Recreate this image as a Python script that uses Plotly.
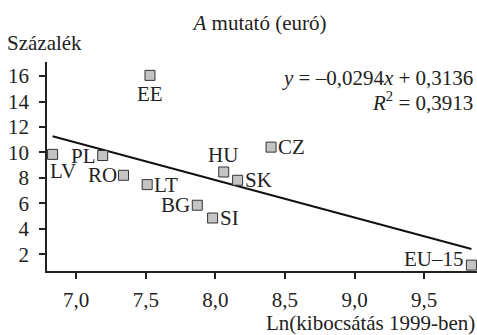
import plotly.graph_objects as go

# Data
countries = ["EE", "LV", "PL", "RO", "LT", "BG", "SI", "HU", "SK", "CZ", "EU–15"]
ln_output = [7.53, 6.83, 7.19, 7.34, 7.51, 7.87, 7.98, 8.06, 8.16, 8.40, 9.84]
percent = [16.05, 9.85, 9.76, 8.21, 7.48, 5.86, 4.86, 8.47, 7.82, 10.42, 1.16]

trend_x = [6.83, 9.84]
trend_y = [11.28, 2.43]

x_ticks = [7.0, 7.5, 8.0, 8.5, 9.0, 9.5]
y_ticks = [2, 4, 6, 8, 10, 12, 14, 16]

title_text = "<i>A</i> mutató (euró)"
y_label = "Százalék"
x_label = "Ln(kibocsátás 1999-ben)"
eq_line1 = "<i>y</i> = –0,0294<i>x</i> + 0,3136"
eq_line2 = "<i>R</i><sup>2</sup> = 0,3913"

# label placement (style)
label_style = {
    "EE": dict(xanchor="center", yanchor="top", xshift=0, yshift=-5),
    "LV": dict(xanchor="left", yanchor="top", xshift=-5, yshift=-3),
    "PL": dict(xanchor="right", yanchor="middle", xshift=-5, yshift=0),
    "RO": dict(xanchor="right", yanchor="middle", xshift=-5, yshift=0),
    "LT": dict(xanchor="left", yanchor="middle", xshift=5, yshift=0),
    "BG": dict(xanchor="right", yanchor="middle", xshift=-5, yshift=0),
    "SI": dict(xanchor="left", yanchor="middle", xshift=5, yshift=0),
    "HU": dict(xanchor="center", yanchor="bottom", xshift=-1, yshift=3),
    "SK": dict(xanchor="left", yanchor="middle", xshift=5, yshift=0),
    "CZ": dict(xanchor="left", yanchor="middle", xshift=5, yshift=0),
    "EU–15": dict(xanchor="right", yanchor="middle", xshift=-5, yshift=6),
}

FONT = "Liberation Serif, Times New Roman, serif"
FS = 21
TXT = "#222222"

W, H = 477, 335
L, R, T, B = 47, 0, 62, 64
pw, ph = W - L - R, H - T - B

def px(x):
    return (x - L) / pw

def py(y):
    return (H - B - y) / ph

fig = go.Figure()
fig.add_trace(go.Scatter(
    x=trend_x, y=trend_y, mode="lines",
    line=dict(color="#111111", width=2), hoverinfo="skip", showlegend=False,
))
fig.add_trace(go.Scatter(
    x=ln_output, y=percent, mode="markers",
    marker=dict(symbol="square", size=10, color="#c4c4c4",
                line=dict(color="#333333", width=1)),
    showlegend=False, cliponaxis=False,
))

annotations = []
for c, xv, yv in zip(countries, ln_output, percent):
    st = label_style[c]
    annotations.append(dict(x=xv, y=yv, xref="x", yref="y", text=c, showarrow=False,
                            font=dict(family=FONT, size=FS, color=TXT), **st))

extra = [
    dict(x=px(5), y=py(43), text=y_label, xanchor="left", yanchor="middle"),
    dict(x=px(477), y=py(323), text=x_label, xanchor="right", yanchor="middle"),
    dict(x=px(475), y=py(78), text=eq_line1, xanchor="right", yanchor="middle"),
    dict(x=px(475), y=py(101), text=eq_line2, xanchor="right", yanchor="middle"),
]
for e in extra:
    annotations.append(dict(xref="paper", yref="paper", showarrow=False,
                            font=dict(family=FONT, size=FS, color=TXT), **e))

fig.update_layout(
    title=dict(text=title_text, x=260 / W, xanchor="center", y=1 - 23 / H, yanchor="middle",
               font=dict(family=FONT, size=FS, color=TXT)),
    annotations=annotations,
    width=W, height=H,
    margin=dict(l=L, r=R, t=T, b=B),
    paper_bgcolor="white", plot_bgcolor="white",
    separators=", ",
    font=dict(family=FONT, size=FS, color=TXT),
    xaxis=dict(range=[6.79, 9.88], tickvals=x_ticks, tickformat=".1f",
               showgrid=False, zeroline=False, showline=True, linecolor="#222222",
               linewidth=1.5, ticks="outside", ticklen=6, tickcolor="#222222", tickwidth=1.5,
               ticklabelstandoff=3),
    yaxis=dict(range=[0.7, 17.1], tickvals=y_ticks,
               showgrid=False, zeroline=False, showline=True, linecolor="#222222",
               linewidth=1.5, ticks="outside", ticklen=6, tickcolor="#222222", tickwidth=1.5,
               ticklabelstandoff=6),
)

fig.write_html("out.html")
